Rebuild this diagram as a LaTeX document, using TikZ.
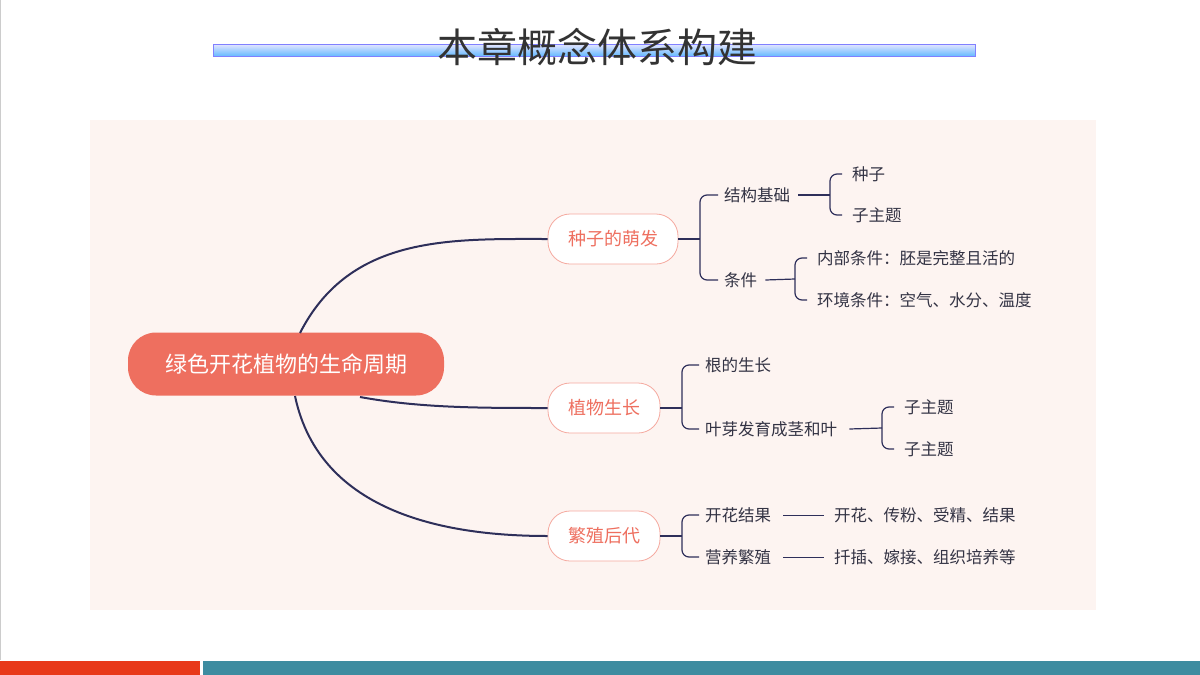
\documentclass[tikz,border=0pt]{standalone}
\usepackage{fontspec}
\setmainfont{Noto Sans CJK SC}
\definecolor{navy}{HTML}{2E2F5A}
\definecolor{coral}{HTML}{EE6F5F}
\definecolor{panel}{HTML}{FDF4F1}
\definecolor{txt}{HTML}{333344}
\definecolor{teal}{HTML}{3E8CA0}
\definecolor{redbar}{HTML}{E8391A}
\begin{document}
\begin{tikzpicture}[x=1pt,y=-1pt,
  lvl/.style={draw=coral!60,fill=white,rounded corners=22pt,line width=0.8pt,text=coral,font=\fontsize{18}{21}\selectfont,minimum height=50pt},
  leaf/.style={anchor=west,text=txt,font=\fontsize{16.5}{19}\selectfont,inner sep=2pt},
  ln/.style={draw=navy,line width=2pt},
  br/.style={draw=navy,line width=1.2pt,rounded corners=7pt}]
\useasboundingbox (0,0) rectangle (1200,675);
\fill[white] (0,0) rectangle (1200,675);
\draw[gray!40] (0.5,0) -- (0.5,660);
% title
\shade[top color=blue!10,bottom color=blue!45!cyan!60,draw=blue!50] (213,44) rectangle (975,56);
\node (title) [text=black!80,font=\fontsize{40}{42}\selectfont] at (597,47) {本章概念体系构建};
% panel
\fill[panel] (90,120) rectangle (1096,610);
% bottom bars
\fill[redbar] (0,661) rectangle (200,675);
\fill[teal] (203,661) rectangle (1200,675);
% root
\node (root) [fill=coral,rounded corners=28pt,text=white,minimum width=316pt,minimum height=63pt,font=\fontsize{22}{25}\selectfont] at (286,364) {绿色开花植物的生命周期};
% level 1
\node (a) [lvl,minimum width=130pt] at (613,239) {种子的萌发};
\node (b) [lvl,minimum width=112pt] at (604,408) {植物生长};
\node (c) [lvl,minimum width=112pt] at (604,536) {繁殖后代};
\draw[ln] (300,333) .. controls (350,235) and (450,239) .. (a.west);
\draw[ln] (360,397) .. controls (420,408) and (480,408) .. (b.west);
\draw[ln] (295,396) .. controls (320,515) and (450,536) .. (c.west);
% seed branch
\node (a1) [leaf] at (722,195) {结构基础};
\node (a2) [leaf] at (722,280) {条件};
\draw[br] (a.east) -- (700,239);
\draw[br] ([xshift=-4pt]a1.west) -- (700,195) -- (700,280) -- ([xshift=-4pt]a2.west);
\node (a11) [leaf] at (850,174) {种子};
\node (a12) [leaf] at (850,215) {子主题};
\draw[br] ([xshift=6pt]a1.east) -- (830,195);
\draw[br] ([xshift=-8pt]a11.west) -- (830,174) -- (830,215) -- ([xshift=-8pt]a12.west);
\node (a21) [leaf] at (815,258) {内部条件：胚是完整且活的};
\node (a22) [leaf] at (815,300) {环境条件：空气、水分、温度};
\draw[br] ([xshift=6pt]a2.east) -- (795,279);
\draw[br] ([xshift=-8pt]a21.west) -- (795,258) -- (795,300) -- ([xshift=-8pt]a22.west);
% growth branch
\node (b1) [leaf] at (703,365) {根的生长};
\node (b2) [leaf] at (703,429) {叶芽发育成茎和叶};
\draw[br] (b.east) -- (682,408);
\draw[br] ([xshift=-4pt]b1.west) -- (682,365) -- (682,429) -- ([xshift=-4pt]b2.west);
\node (b21) [leaf] at (902,407) {子主题};
\node (b22) [leaf] at (902,449) {子主题};
\draw[br] ([xshift=10pt]b2.east) -- (882,428);
\draw[br] ([xshift=-8pt]b21.west) -- (882,407) -- (882,449) -- ([xshift=-8pt]b22.west);
% reproduction branch
\node (c1) [leaf] at (703,515) {开花结果};
\node (c2) [leaf] at (703,557) {营养繁殖};
\draw[br] (c.east) -- (682,536);
\draw[br] ([xshift=-4pt]c1.west) -- (682,515) -- (682,557) -- ([xshift=-4pt]c2.west);
\node (c11) [leaf] at (832,515) {开花、传粉、受精、结果};
\node (c21) [leaf] at (832,557) {扦插、嫁接、组织培养等};
\draw[navy,line width=1pt] ([xshift=10pt]c1.east) -- ([xshift=-8pt]c11.west);
\draw[navy,line width=1pt] ([xshift=10pt]c2.east) -- ([xshift=-8pt]c21.west);
\end{tikzpicture}
\end{document}
